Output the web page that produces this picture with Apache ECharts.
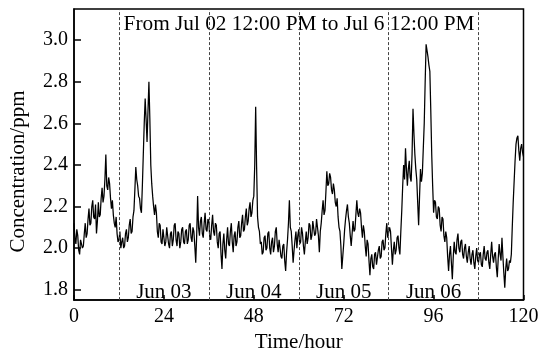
<!DOCTYPE html>
<html>
<head>
<meta charset="utf-8">
<script src="https://cdn.jsdelivr.net/npm/echarts@6/dist/echarts.min.js"></script>
<style>
  html, body { margin: 0; padding: 0; background: #fff; }
  #chart-container { width: 550px; height: 358px; }
</style>
</head>
<body>
<div id="chart-container"></div>
<script>
// concentration (ppm), one reading every quarter hour from t = 0 h (one row per hour)
const step = 0.25;
const concentration = [
  2.12, 2.05, 2.02, 2.09,  2.06, 1.99, 1.97, 2.04,  2.04, 2.00, 2.01, 2.07,
  2.12, 2.05, 2.07, 2.14,  2.19, 2.11, 2.12, 2.20,  2.23, 2.15, 2.14, 2.21,
  2.07, 2.13, 2.22, 2.15,  2.16, 2.24, 2.29, 2.22,  2.25, 2.33, 2.45, 2.30,
  2.28, 2.34, 2.31, 2.24,  2.19, 2.23, 2.16, 2.12,  2.10, 2.15, 2.07, 2.03,
  2.04, 2.08, 2.00, 2.03,  2.05, 2.00, 2.01, 2.07,  2.09, 2.03, 2.05, 2.11,
  2.14, 2.07, 2.08, 2.15,  2.18, 2.28, 2.39, 2.33,  2.30, 2.25, 2.24, 2.19,
  2.17, 2.30, 2.45, 2.60,  2.72, 2.62, 2.51, 2.66,  2.80, 2.62, 2.40, 2.31,
  2.25, 2.20, 2.16, 2.21,  2.17, 2.08, 2.05, 2.12,  2.11, 2.03, 2.02, 2.09,
  2.09, 2.01, 2.03, 2.10,  2.10, 2.02, 2.00, 2.07,  2.08, 2.01, 2.04, 2.11,
  2.12, 2.04, 2.01, 2.08,  2.07, 2.00, 2.03, 2.09,  2.10, 2.03, 2.02, 2.08,
  2.09, 2.02, 2.04, 2.11,  2.12, 2.05, 2.03, 2.10,  2.08, 2.01, 1.93, 2.06,
  2.25, 2.10, 2.06, 2.13,  2.15, 2.07, 2.05, 2.12,  2.17, 2.09, 2.08, 2.14,
  2.13, 2.05, 2.04, 2.11,  2.16, 2.08, 2.06, 2.12,  2.11, 2.03, 2.00, 2.07,
  2.08, 1.97, 1.90, 2.02,  2.07, 1.99, 1.95, 2.04,  2.10, 2.02, 2.01, 2.08,
  2.12, 2.03, 1.98, 2.06,  2.08, 2.01, 2.03, 2.10,  2.13, 2.05, 2.06, 2.12,
  2.16, 2.08, 2.09, 2.15,  2.19, 2.11, 2.13, 2.19,  2.22, 2.15, 2.17, 2.23,
  2.25, 2.40, 2.68, 2.39,  2.15, 2.10, 2.08, 2.02,  2.03, 1.97, 1.98, 2.05,
  2.06, 1.99, 2.00, 2.07,  2.08, 2.00, 1.97, 2.03,  2.05, 1.98, 2.01, 2.08,
  2.10, 2.02, 1.98, 2.04,  2.04, 1.96, 1.95, 2.01,  2.02, 1.94, 1.89, 1.98,
  2.04, 2.12, 2.23, 2.10,  2.08, 2.01, 1.93, 1.99,  2.04, 2.08, 2.00, 2.06,
  2.09, 2.02, 2.03, 2.10,  2.07, 2.01, 1.97, 2.03,  2.08, 2.02, 2.05, 2.12,
  2.11, 2.04, 2.06, 2.13,  2.13, 2.06, 2.07, 2.14,  2.14, 2.06, 1.98, 2.08,
  2.12, 2.18, 2.23, 2.16,  2.18, 2.27, 2.37, 2.30,  2.31, 2.36, 2.34, 2.28,
  2.26, 2.31, 2.28, 2.22,  2.20, 2.24, 2.15, 2.10,  2.08, 2.01, 1.90, 1.96,
  2.02, 2.09, 2.14, 2.18,  2.21, 2.15, 2.12, 2.06,  2.01, 2.07, 2.13, 2.08,
  2.09, 2.16, 2.23, 2.17,  2.15, 2.19, 2.17, 2.10,  2.05, 2.11, 2.08, 2.01,
  1.96, 2.04, 2.02, 1.94,  1.87, 1.95, 1.97, 1.91,  1.90, 1.97, 1.98, 1.92,
  1.92, 1.99, 2.01, 1.95,  1.96, 2.03, 2.04, 1.99,  2.00, 2.07, 2.12, 2.05,
  2.05, 2.10, 2.08, 2.00,  1.92, 1.99, 2.03, 1.97,  1.99, 2.05, 2.06, 2.00,
  1.97, 2.08, 2.18, 2.30,  2.40, 2.33, 2.48, 2.38,  2.30, 2.38, 2.42, 2.34,
  2.32, 2.45, 2.67, 2.55,  2.45, 2.38, 2.33, 2.22,  2.11, 2.25, 2.38, 2.32,
  2.36, 2.48, 2.60, 2.80,  2.98, 2.95, 2.92, 2.88,  2.85, 2.66, 2.45, 2.30,
  2.17, 2.23, 2.22, 2.15,  2.14, 2.20, 2.19, 2.11,  2.08, 2.15, 2.14, 2.06,
  2.03, 2.08, 2.05, 1.96,  1.89, 1.97, 2.01, 1.93,  1.85, 1.96, 2.03, 1.98,
  1.97, 2.04, 2.07, 2.00,  1.98, 2.03, 2.04, 1.97,  1.95, 2.00, 2.02, 1.96,
  1.93, 1.98, 2.01, 1.95,  1.92, 1.97, 1.99, 1.93,  1.90, 1.96, 2.00, 1.94,
  1.93, 1.97, 1.98, 1.92,  1.91, 1.97, 2.01, 1.95,  1.94, 1.98, 1.99, 1.93,
  1.90, 1.97, 2.03, 1.96,  1.93, 1.97, 1.98, 1.91,  1.86, 1.95, 2.02, 1.97,
  1.94, 2.05, 1.96, 1.88,  1.81, 1.90, 1.95, 1.89,  1.90, 1.94, 1.93, 1.97,
  2.10, 2.22, 2.32, 2.42,  2.50, 2.53, 2.54, 2.47,  2.42, 2.48, 2.50, 2.46,
  2.44
];

// noon markers (dashed) and the day names between them
const noonHours = [12, 36, 60, 84, 108];
const dayLabels = ['Jun 03', 'Jun 04', 'Jun 05', 'Jun 06'];
const yTicks = [1.8, 2.0, 2.2, 2.4, 2.6, 2.8, 3.0];
const titleText = 'From Jul 02 12:00 PM to Jul 6 12:00 PM';

const font = 'Liberation Serif';
const seriesData = concentration.map((v, i) => [i * step, v]);

const myChart = echarts.init(document.getElementById('chart-container'));
const option = {
  animation: false,
  grid: {
    left: 73, right: 26.5, top: 9, bottom: 48,
    show: true, borderColor: '#000', borderWidth: 1.5
  },
  graphic: [{
    type: 'text',
    x: 299, y: 24,
    style: {
      text: titleText,
      font: '21.3px "' + font + '"',
      fill: '#000',
      textAlign: 'center',
      textVerticalAlign: 'middle'
    }
  }],
  xAxis: {
    type: 'value',
    min: 0, max: 120, interval: 24,
    name: 'Time/hour',
    nameLocation: 'middle',
    nameGap: 25,
    nameTextStyle: { fontFamily: font, fontSize: 21, color: '#000' },
    axisLine: { lineStyle: { color: '#000', width: 1.5 } },
    axisTick: { inside: true, length: 5, lineStyle: { color: '#000', width: 1.5 } },
    axisLabel: { fontFamily: font, fontSize: 20, color: '#000', margin: 7 },
    splitLine: { show: false }
  },
  yAxis: {
    type: 'value',
    min: 1.75, max: 3.15,
    name: 'Concentration/ppm',
    nameLocation: 'middle',
    nameGap: 45,
    nameTextStyle: { fontFamily: font, fontSize: 21, color: '#000', padding: [0, 34, 0, 0] },
    axisLine: { lineStyle: { color: '#000', width: 1.5 } },
    axisTick: { inside: true, length: 7, customValues: yTicks, lineStyle: { color: '#000', width: 1.5 } },
    axisLabel: {
      customValues: yTicks,
      fontFamily: font, fontSize: 20, color: '#000', margin: 6,
      formatter: v => v.toFixed(1)
    },
    splitLine: { show: false }
  },
  series: [{
    name: 'Concentration',
    type: 'line',
    data: seriesData,
    showSymbol: false,
    symbol: 'none',
    lineStyle: { color: '#000', width: 1.25 },
    markLine: {
      silent: true,
      symbol: 'none',
      label: { show: false },
      lineStyle: { color: '#444', type: [3, 2], width: 1 },
      data: noonHours.map(h => ({ xAxis: h }))
    },
    markArea: {
      silent: true,
      itemStyle: { color: 'rgba(0,0,0,0)' },
      label: {
        show: true,
        position: 'insideBottom',
        distance: 8,
        offset: [0, 11],
        fontFamily: font, fontSize: 21, color: '#000'
      },
      data: dayLabels.map((d, i) => [
        { name: d, xAxis: noonHours[i] },
        { xAxis: noonHours[i + 1] }
      ])
    }
  }]
};

myChart.setOption(option);
</script>
</body>
</html>
